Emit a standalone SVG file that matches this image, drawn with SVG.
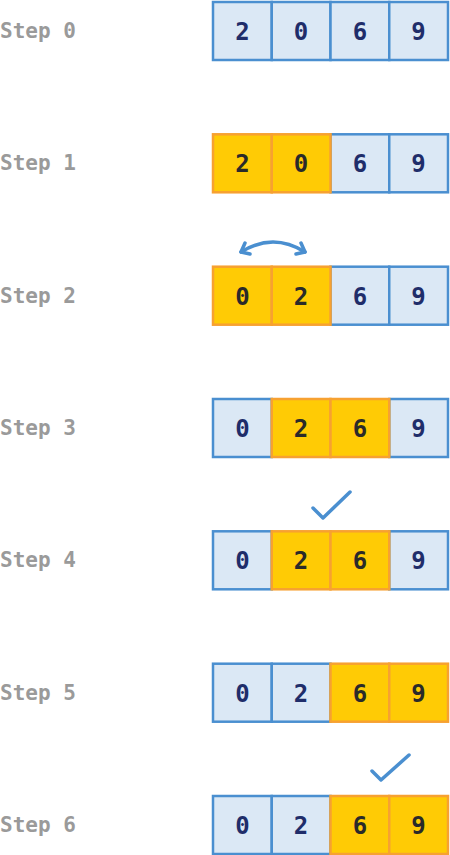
<svg xmlns="http://www.w3.org/2000/svg" width="450" height="855" viewBox="0 0 450 855">
<style>
.lbl{font-family:"DejaVu Sans Mono","Liberation Mono",monospace;font-weight:bold;font-size:21px;fill:#9a9a9a}
.b rect{fill:#dbe8f5;stroke:#4a8fd0;stroke-width:2.5}
.y rect{fill:#ffcb05;stroke:#f7a131;stroke-width:2.5}
.b text,.y text{font-family:"DejaVu Sans Mono","Liberation Mono",monospace;font-weight:bold;font-size:24px;text-anchor:middle}
.b text{fill:#1f2d6a}
.y text{fill:#2a2a2a}
.mark{fill:none;stroke:#4a8fd0;stroke-width:3.5;stroke-linecap:round;stroke-linejoin:round}
</style>

<g id="step0" transform="translate(0,2)">
<text class="lbl" x="0" y="36">Step 0</text>
<g class="b"><rect x="213" y="0" width="58.75" height="58"/><text x="242.4" y="38">2</text></g>
<g class="b"><rect x="271.75" y="0" width="58.75" height="58"/><text x="301.1" y="38">0</text></g>
<g class="b"><rect x="330.5" y="0" width="58.75" height="58"/><text x="359.9" y="38">6</text></g>
<g class="b"><rect x="389.25" y="0" width="58.75" height="58"/><text x="418.6" y="38">9</text></g>
</g>

<g id="step1" transform="translate(0,134.3)">
<text class="lbl" x="0" y="36">Step 1</text>
<g class="b"><rect x="330.5" y="0" width="58.75" height="58"/><text x="359.9" y="38">6</text></g>
<g class="b"><rect x="389.25" y="0" width="58.75" height="58"/><text x="418.6" y="38">9</text></g>
<g class="y"><rect x="213" y="0" width="58.75" height="58"/><text x="242.4" y="38">2</text></g>
<g class="y"><rect x="271.75" y="0" width="58.75" height="58"/><text x="301.1" y="38">0</text></g>
</g>

<g id="step2" transform="translate(0,266.7)">
<text class="lbl" x="0" y="36">Step 2</text>
<g class="b"><rect x="330.5" y="0" width="58.75" height="58"/><text x="359.9" y="38">6</text></g>
<g class="b"><rect x="389.25" y="0" width="58.75" height="58"/><text x="418.6" y="38">9</text></g>
<g class="y"><rect x="213" y="0" width="58.75" height="58"/><text x="242.4" y="38">0</text></g>
<g class="y"><rect x="271.75" y="0" width="58.75" height="58"/><text x="301.1" y="38">2</text></g>
</g>

<g id="step3" transform="translate(0,399)">
<text class="lbl" x="0" y="36">Step 3</text>
<g class="b"><rect x="213" y="0" width="58.75" height="58"/><text x="242.4" y="38">0</text></g>
<g class="b"><rect x="389.25" y="0" width="58.75" height="58"/><text x="418.6" y="38">9</text></g>
<g class="y"><rect x="271.75" y="0" width="58.75" height="58"/><text x="301.1" y="38">2</text></g>
<g class="y"><rect x="330.5" y="0" width="58.75" height="58"/><text x="359.9" y="38">6</text></g>
</g>

<g id="step4" transform="translate(0,531.3)">
<text class="lbl" x="0" y="36">Step 4</text>
<g class="b"><rect x="213" y="0" width="58.75" height="58"/><text x="242.4" y="38">0</text></g>
<g class="b"><rect x="389.25" y="0" width="58.75" height="58"/><text x="418.6" y="38">9</text></g>
<g class="y"><rect x="271.75" y="0" width="58.75" height="58"/><text x="301.1" y="38">2</text></g>
<g class="y"><rect x="330.5" y="0" width="58.75" height="58"/><text x="359.9" y="38">6</text></g>
</g>

<g id="step5" transform="translate(0,663.7)">
<text class="lbl" x="0" y="36">Step 5</text>
<g class="b"><rect x="213" y="0" width="58.75" height="58"/><text x="242.4" y="38">0</text></g>
<g class="b"><rect x="271.75" y="0" width="58.75" height="58"/><text x="301.1" y="38">2</text></g>
<g class="y"><rect x="330.5" y="0" width="58.75" height="58"/><text x="359.9" y="38">6</text></g>
<g class="y"><rect x="389.25" y="0" width="58.75" height="58"/><text x="418.6" y="38">9</text></g>
</g>

<g id="step6" transform="translate(0,796)">
<text class="lbl" x="0" y="36">Step 6</text>
<g class="b"><rect x="213" y="0" width="58.75" height="58"/><text x="242.4" y="38">0</text></g>
<g class="b"><rect x="271.75" y="0" width="58.75" height="58"/><text x="301.1" y="38">2</text></g>
<g class="y"><rect x="330.5" y="0" width="58.75" height="58"/><text x="359.9" y="38">6</text></g>
<g class="y"><rect x="389.25" y="0" width="58.75" height="58"/><text x="418.6" y="38">9</text></g>
</g>

<g id="connectors">
<path class="mark" d="M241,252 Q273,232 305,252"/>
<path class="mark" d="M245,243 L241,252 L250,254"/>
<path class="mark" d="M301,243 L305,252 L296,254"/>
<path class="mark" d="M313,508 L323,518 L350,492"/>
<path class="mark" d="M372,771 L381,780 L409,755"/>
</g>
</svg>
